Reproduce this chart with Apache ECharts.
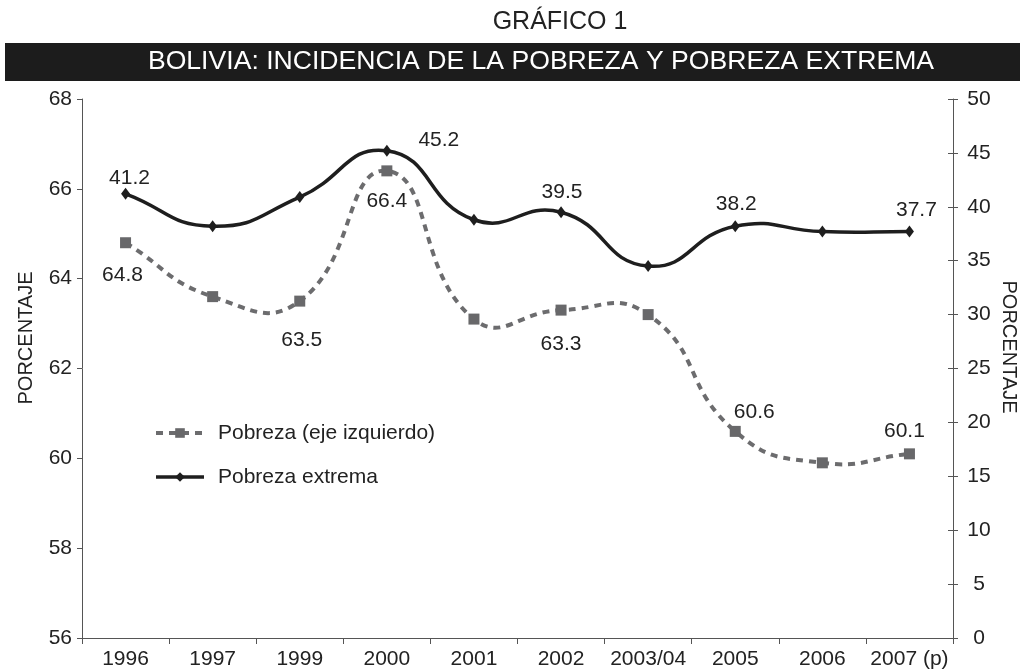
<!DOCTYPE html>
<html>
<head>
<meta charset="utf-8">
<script src="https://cdn.jsdelivr.net/npm/echarts@6/dist/echarts.min.js"></script>
<style>
  html, body { margin: 0; padding: 0; background: #ffffff; }
  #chart { width: 1020px; height: 671px; }
</style>
</head>
<body>
<div id="chart"></div>
<script>
// Survey years (category axis)
const years = ['1996', '1997', '1999', '2000', '2001', '2002', '2003/04', '2005', '2006', '2007 (p)'];

// Poverty incidence, % (left axis)
const pobreza = [64.8, 63.6, 63.5, 66.4, 63.1, 63.3, 63.2, 60.6, 59.9, 60.1];

// Extreme poverty incidence, % (right axis)
const pobrezaExtrema = [41.2, 38.2, 40.9, 45.2, 38.8, 39.5, 34.5, 38.2, 37.7, 37.7];

// Axis ranges
const leftAxisRange = { min: 56, max: 68, interval: 2 };
const rightAxisRange = { min: 0, max: 50, interval: 5 };

// Which points carry a value label, and where the label sits relative to the marker
const pobrezaLabelOffsets = { 0: [-3, 32], 2: [2, 39], 3: [0, 30], 5: [0, 34], 7: [19, -19], 9: [-5, -23] };
const extremaLabelOffsets = { 0: [4, -16], 3: [52, -11], 5: [1, -20], 7: [1, -22], 9: [7, -21] };

const FONT = '"Liberation Sans", Arial, Helvetica, sans-serif';
const TEXT = '#222222';
const AXIS = '#555555';

const POB_LINE = { color: '#6c6c6e', width: 4, type: [7, 6] };
const EXT_LINE = { color: '#1e1e1e', width: 3.5, type: 'solid' };
const SMOOTH = 0.5;

function withLabels(values, offsets) {
  return values.map((v, i) => {
    const off = offsets[i];
    if (!off) return { value: v };
    return {
      value: v,
      label: {
        show: true,
        position: 'inside',
        offset: off,
        formatter: p => Number(p.value).toFixed(1),
        fontFamily: FONT,
        fontSize: 21,
        color: TEXT,
        align: 'center',
        verticalAlign: 'middle'
      }
    };
  });
}

// Smoothed path through the points (chord-weighted cubic Bezier, tangents
// parallel to the neighbour chord, overshoot allowed like classic spreadsheet curves)
function smoothPathData(pts) {
  const n = pts.length;
  let d = 'M' + pts[0][0] + ' ' + pts[0][1];
  const cps = pts.map((p, i) => {
    const prev = pts[Math.max(i - 1, 0)];
    const next = pts[Math.min(i + 1, n - 1)];
    const vx = next[0] - prev[0], vy = next[1] - prev[1];
    const d0 = Math.hypot(p[0] - prev[0], p[1] - prev[1]);
    const d1 = Math.hypot(next[0] - p[0], next[1] - p[1]);
    const sum = d0 + d1 || 1;
    const r0 = d0 / sum, r1 = d1 / sum;
    return {
      before: [p[0] - vx * SMOOTH * r0, p[1] - vy * SMOOTH * r0],
      after: [p[0] + vx * SMOOTH * r1, p[1] + vy * SMOOTH * r1]
    };
  });
  for (let i = 0; i < n - 1; i++) {
    const c1 = cps[i].after, c2 = cps[i + 1].before, p = pts[i + 1];
    d += ' C' + c1[0] + ' ' + c1[1] + ' ' + c2[0] + ' ' + c2[1] + ' ' + p[0] + ' ' + p[1];
  }
  return d;
}

function curveSeries(values, yAxisIndex, lineStyle) {
  return {
    type: 'custom',
    yAxisIndex: yAxisIndex,
    silent: true,
    z: 2,
    data: values.map((v, i) => [i, v]),
    encode: { x: 0, y: 1 },
    renderItem: function (params, api) {
      if (params.dataIndex !== 0) return null;
      const pts = values.map((v, i) => api.coord([i, v]));
      return {
        type: 'path',
        shape: { pathData: smoothPathData(pts) },
        style: {
          fill: null,
          stroke: lineStyle.color,
          lineWidth: lineStyle.width,
          lineDash: Array.isArray(lineStyle.type) ? lineStyle.type : null,
          lineJoin: 'round'
        }
      };
    }
  };
}

const chart = echarts.init(document.getElementById('chart'), null, { renderer: 'canvas' });

chart.setOption({
  backgroundColor: '#ffffff',
  animation: false,
  textStyle: { fontFamily: FONT },
  grid: { left: 82, right: 67, top: 99, bottom: 33, containLabel: false },
  graphic: [
    {
      type: 'text',
      style: {
        x: 560, y: 22, text: 'GRÁFICO 1',
        textAlign: 'center', textVerticalAlign: 'middle',
        font: '25px ' + FONT, fill: TEXT
      }
    },
    {
      type: 'rect',
      shape: { x: 5, y: 43, width: 1015, height: 38 },
      style: { fill: '#1c1c1c' }
    },
    {
      type: 'text',
      style: {
        x: 541, y: 62, text: 'BOLIVIA: INCIDENCIA DE LA POBREZA Y POBREZA EXTREMA',
        textAlign: 'center', textVerticalAlign: 'middle',
        font: '26.6px ' + FONT, fill: '#ffffff'
      }
    },
    {
      type: 'text',
      x: 26, y: 338, rotation: Math.PI / 2,
      style: {
        text: 'PORCENTAJE', textAlign: 'center', textVerticalAlign: 'middle',
        font: '20px ' + FONT, fill: TEXT
      }
    },
    {
      type: 'text',
      x: 1009, y: 347, rotation: -Math.PI / 2,
      style: {
        text: 'PORCENTAJE', textAlign: 'center', textVerticalAlign: 'middle',
        font: '20px ' + FONT, fill: TEXT
      }
    }
  ],
  legend: {
    orient: 'vertical',
    left: 154,
    top: 421,
    padding: 0,
    itemWidth: 48,
    itemHeight: 12,
    itemGap: 20,
    textStyle: { fontFamily: FONT, fontSize: 21, color: TEXT, lineHeight: 24, padding: [0, 0, 0, 9] },
    data: [
      { name: 'Pobreza (eje izquierdo)', lineStyle: { opacity: 1, color: POB_LINE.color, width: POB_LINE.width, type: POB_LINE.type } },
      { name: 'Pobreza extrema', lineStyle: { opacity: 1, color: EXT_LINE.color, width: EXT_LINE.width, type: EXT_LINE.type } }
    ]
  },
  xAxis: {
    type: 'category',
    data: years,
    boundaryGap: true,
    axisLine: { lineStyle: { color: AXIS, width: 1 } },
    axisTick: { show: true, length: 6, lineStyle: { color: AXIS } },
    axisLabel: { fontFamily: FONT, fontSize: 21, color: TEXT, margin: 11, interval: 0 },
    splitLine: { show: false }
  },
  yAxis: [
    {
      type: 'value',
      position: 'left',
      min: leftAxisRange.min, max: leftAxisRange.max, interval: leftAxisRange.interval,
      axisLine: { show: true, lineStyle: { color: AXIS, width: 1 } },
      axisTick: { show: true, length: 5, lineStyle: { color: AXIS } },
      axisLabel: { fontFamily: FONT, fontSize: 21, color: TEXT, margin: 10 },
      splitLine: { show: false }
    },
    {
      type: 'value',
      position: 'right',
      min: rightAxisRange.min, max: rightAxisRange.max, interval: rightAxisRange.interval,
      axisLine: { show: true, lineStyle: { color: AXIS, width: 1 } },
      axisTick: { show: true, length: 5, lineStyle: { color: AXIS } },
      axisLabel: { fontFamily: FONT, fontSize: 21, color: TEXT, margin: 26, align: 'center' },
      splitLine: { show: false }
    },
    {
      // inner half of the right axis ticks
      type: 'value',
      position: 'right',
      min: rightAxisRange.min, max: rightAxisRange.max, interval: rightAxisRange.interval,
      axisLine: { show: false },
      axisTick: { show: true, inside: true, length: 5, lineStyle: { color: AXIS } },
      axisLabel: { show: false },
      splitLine: { show: false }
    }
  ],
  series: [
    curveSeries(pobreza, 0, POB_LINE),
    curveSeries(pobrezaExtrema, 1, EXT_LINE),
    {
      name: 'Pobreza (eje izquierdo)',
      type: 'line',
      yAxisIndex: 0,
      data: withLabels(pobreza, pobrezaLabelOffsets),
      symbol: 'rect',
      symbolSize: 11,
      itemStyle: { color: '#68686a' },
      lineStyle: { color: POB_LINE.color, width: POB_LINE.width, type: POB_LINE.type, opacity: 0 },
      z: 3
    },
    {
      name: 'Pobreza extrema',
      type: 'line',
      yAxisIndex: 1,
      data: withLabels(pobrezaExtrema, extremaLabelOffsets),
      symbol: 'diamond',
      symbolSize: [9, 12],
      itemStyle: { color: '#1e1e1e' },
      lineStyle: { color: EXT_LINE.color, width: EXT_LINE.width, type: EXT_LINE.type, opacity: 0 },
      z: 4
    }
  ]
});
</script>
</body>
</html>
